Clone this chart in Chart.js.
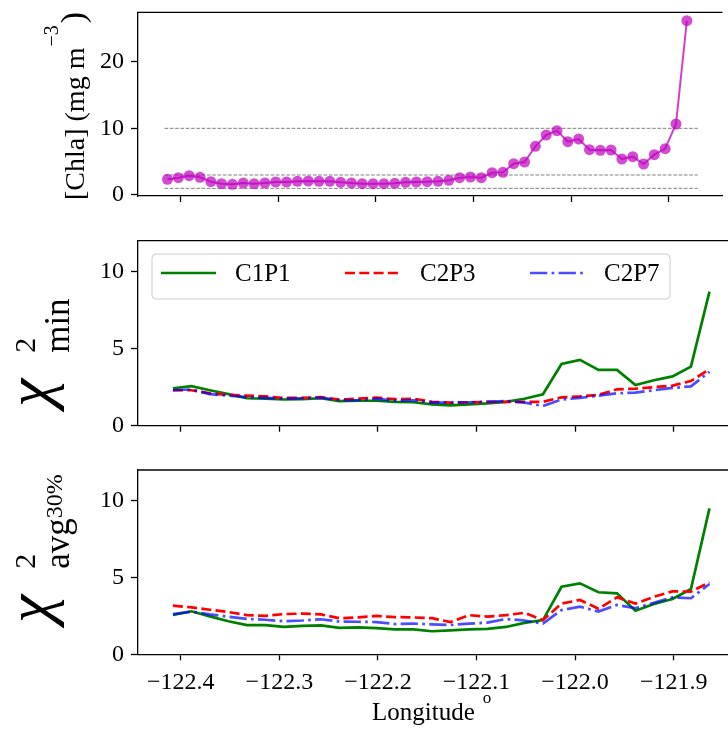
<!DOCTYPE html>
<html>
<head>
<meta charset="utf-8">
<script src="https://cdn.jsdelivr.net/npm/chart.js@4.4.0/dist/chart.umd.min.js"></script>
<style>
  body { margin: 0; background: #fff; width: 728px; height: 733px; overflow: hidden; position: relative; }
  canvas { position: absolute; left: 0; }
</style>
</head>
<body>
<canvas id="chla" width="728" height="230" style="top:0"></canvas>
<canvas id="chiMin" width="728" height="230" style="top:230px"></canvas>
<canvas id="chiAvg" width="728" height="273" style="top:460px"></canvas>
<script>
// longitude of each Chla sample
const chlaLon = [-122.4132, -122.4021, -122.3910, -122.3799, -122.3688, -122.3578, -122.3467, -122.3356,
  -122.3245, -122.3135, -122.3024, -122.2913, -122.2802, -122.2691, -122.2581, -122.2470, -122.2359,
  -122.2248, -122.2138, -122.2027, -122.1916, -122.1805, -122.1694, -122.1584, -122.1473, -122.1362,
  -122.1251, -122.1141, -122.1030, -122.0919, -122.0808, -122.0697, -122.0587, -122.0476, -122.0365,
  -122.0254, -122.0144, -122.0033, -121.9922, -121.9811, -121.9700, -121.9590, -121.9479, -121.9368,
  -121.9257, -121.9147, -121.9036, -121.8925, -121.8814];
const chlaVal = [2.35, 2.6, 2.9, 2.65, 2.0, 1.7, 1.6, 1.8, 1.7, 1.8, 1.95, 1.95, 2.05, 2.1, 2.05, 2.05,
  1.9, 1.8, 1.7, 1.7, 1.7, 1.75, 1.9, 1.95, 2.0, 2.05, 2.2, 2.6, 2.7, 2.6, 3.35, 3.4, 4.7, 4.95, 7.3,
  9.0, 9.65, 8.0, 8.4, 6.8, 6.7, 6.75, 5.4, 5.75, 4.65, 6.05, 6.95, 10.65, 26.15];
const refLevels = [1, 3, 10];
const refLonRange = [-122.4163, -121.8702];

// longitude of each chi-square station
const chiLon = [-122.4080, -122.3892, -122.3705, -122.3517, -122.3329, -122.3142, -122.2954, -122.2766,
  -122.2578, -122.2391, -122.2203, -122.2015, -122.1828, -122.1640, -122.1452, -122.1265, -122.1077,
  -122.0889, -122.0702, -122.0514, -122.0326, -122.0138, -121.9951, -121.9763, -121.9575, -121.9388,
  -121.9200, -121.9012, -121.8825, -121.8637];
const seriesNames = ['C1P1', 'C2P3', 'C2P7'];
const minC1P1 = [2.43, 2.56, 2.3, 2.05, 1.78, 1.75, 1.7, 1.72, 1.78, 1.6, 1.62, 1.62, 1.55, 1.52, 1.38,
  1.32, 1.38, 1.45, 1.55, 1.75, 2.04, 4.0, 4.27, 3.62, 3.62, 2.64, 2.95, 3.2, 3.83, 8.7];
const minC2P3 = [2.3, 2.3, 2.1, 2.0, 1.95, 1.9, 1.8, 1.8, 1.85, 1.7, 1.75, 1.82, 1.72, 1.75, 1.55,
  1.5, 1.5, 1.55, 1.55, 1.55, 1.55, 1.84, 1.9, 2.0, 2.36, 2.4, 2.5, 2.6, 2.9, 3.66];
const minC2P7 = [2.3, 2.35, 2.05, 1.95, 1.85, 1.8, 1.75, 1.78, 1.82, 1.65, 1.65, 1.75, 1.62, 1.65, 1.5,
  1.5, 1.52, 1.55, 1.6, 1.5, 1.28, 1.7, 1.8, 1.95, 2.1, 2.15, 2.3, 2.45, 2.55, 3.5];
const avgC1P1 = [2.56, 2.8, 2.47, 2.15, 1.9, 1.9, 1.78, 1.85, 1.88, 1.72, 1.75, 1.7, 1.62, 1.62, 1.5,
  1.56, 1.62, 1.65, 1.78, 2.05, 2.23, 4.4, 4.62, 4.04, 3.97, 2.84, 3.28, 3.6, 4.25, 9.5];
const avgC2P3 = [3.17, 3.05, 2.9, 2.75, 2.55, 2.5, 2.62, 2.65, 2.6, 2.35, 2.4, 2.5, 2.42, 2.4, 2.35,
  2.1, 2.55, 2.45, 2.55, 2.7, 2.23, 3.3, 3.54, 2.97, 3.71, 3.3, 3.75, 4.1, 4.08, 4.69];
const avgC2P7 = [2.62, 2.78, 2.6, 2.45, 2.3, 2.25, 2.15, 2.2, 2.28, 2.13, 2.12, 2.1, 1.97, 2.0, 1.95,
  1.91, 2.0, 2.06, 2.3, 2.2, 2.0, 2.88, 3.1, 2.78, 3.21, 3.0, 3.36, 3.71, 3.65, 4.58];

// tick labels
const lonTicks = [-122.4, -122.3, -122.2, -122.1, -122.0, -121.9];
const chlaTicks = [0, 10, 20];
const chiTicks = [0, 5, 10];

const SERIF = '"Liberation Serif", "DejaVu Serif", serif';

function pts(xs, ys) {
  return xs.map((x, i) => ({ x: x, y: ys[i] }));
}
function fmtLon(v) {
  return (v < 0 ? '\u2212' : '') + Math.abs(v).toFixed(1);
}

// top spine (matplotlib box, right side is cropped off)
const frameTop = {
  id: 'frameTop',
  afterDraw(chart) {
    const { ctx, chartArea: a } = chart;
    ctx.save();
    ctx.strokeStyle = '#000';
    ctx.lineWidth = 1.3;
    ctx.beginPath();
    ctx.moveTo(a.left - 0.65, a.top);
    ctx.lineTo(a.right, a.top);
    ctx.stroke();
    ctx.restore();
  }
};

// axis titles with super/subscripts
const mathText = {
  id: 'mathText',
  afterDraw(chart, args, opts) {
    const ctx = chart.ctx;
    (opts.items || []).forEach(item => {
      ctx.save();
      ctx.translate(item.x, item.y);
      if (item.rotate) ctx.rotate(-Math.PI / 2);
      ctx.fillStyle = '#000';
      ctx.textBaseline = 'alphabetic';
      ctx.textAlign = 'left';
      let cur = 0;
      item.parts.forEach(p => {
        ctx.font = p.font;
        ctx.fillText(p.text, cur + (p.dx || 0), -(p.rise || 0));
        if (!p.stay) cur += ctx.measureText(p.text).width + (p.dx || 0);
      });
      ctx.restore();
    });
  }
};

// legend box drawn inside the plot area
const boxLegend = {
  id: 'boxLegend',
  afterDraw(chart, args, opts) {
    if (!opts.show) return;
    const ctx = chart.ctx;
    const b = opts.box;
    ctx.save();
    ctx.beginPath();
    ctx.roundRect(b.x, b.y, b.w, b.h, 4);
    ctx.fillStyle = 'rgba(255,255,255,0.8)';
    ctx.fill();
    ctx.strokeStyle = '#cccccc';
    ctx.lineWidth = 1;
    ctx.stroke();
    chart.data.datasets.forEach((ds, i) => {
      const y = b.y + opts.rowY;
      ctx.setLineDash(ds.borderDash || []);
      ctx.strokeStyle = ds.borderColor;
      ctx.lineWidth = ds.borderWidth;
      ctx.beginPath();
      ctx.moveTo(opts.sampleX[i], y);
      ctx.lineTo(opts.sampleX[i] + opts.sampleW, y);
      ctx.stroke();
      ctx.setLineDash([]);
      ctx.fillStyle = '#000';
      ctx.font = opts.font;
      ctx.textBaseline = 'middle';
      ctx.fillText(ds.label, opts.textX[i], y + 1);
    });
    ctx.restore();
  }
};

function xScale(showLabels, height) {
  return {
    type: 'linear',
    min: -122.4434,
    max: -121.8449,
    afterBuildTicks: s => { s.ticks = lonTicks.map(v => ({ value: v })); },
    afterFit: s => { s.height = height; s.paddingLeft = 0; s.paddingRight = 0; },
    grid: { drawOnChartArea: false, drawTicks: true, tickLength: 6, tickWidth: 1.3, tickColor: '#000' },
    border: { display: true, color: '#000', width: 1.3 },
    ticks: {
      display: showLabels, padding: 8, color: '#000', maxRotation: 0, autoSkip: false,
      font: { family: SERIF, size: 24 },
      callback: v => fmtLon(v)
    }
  };
}

function yScale(ticks, min, max) {
  return {
    type: 'linear',
    min: min,
    max: max,
    afterBuildTicks: s => { s.ticks = ticks.map(v => ({ value: v })); },
    afterFit: s => { s.width = 138; s.paddingTop = 0; s.paddingBottom = 0; },
    grid: { drawOnChartArea: false, drawTicks: true, tickLength: 7, tickWidth: 1.3, tickColor: '#000' },
    border: { display: true, color: '#000', width: 1.3 },
    ticks: { padding: 7, color: '#000', font: { family: SERIF, size: 24 } }
  };
}

const common = {
  responsive: false,
  animation: false,
  events: [],
  plugins: { legend: { display: false }, tooltip: { enabled: false } }
};

// [Chla] panel
new Chart(document.getElementById('chla'), {
  type: 'line',
  data: {
    datasets: [
      {
        label: 'Chla',
        data: pts(chlaLon, chlaVal),
        borderColor: 'rgba(191,0,191,0.75)',
        borderWidth: 2,
        pointRadius: 5.5,
        pointBorderWidth: 0,
        pointBackgroundColor: 'rgba(191,0,191,0.7)',
        tension: 0,
        order: 0
      }
    ].concat(refLevels.map(lv => ({
      label: 'ref ' + lv,
      data: pts(refLonRange, [lv, lv]),
      borderColor: '#808080',
      borderWidth: 1,
      borderDash: [3.7, 1.6],
      pointRadius: 0,
      order: 1
    })))
  },
  options: Object.assign({}, common, {
    layout: { padding: { top: 12.3, left: 0, right: 0, bottom: 0 } },
    scales: { x: xScale(false, 34), y: yScale(chlaTicks, -0.15, 27.4) },
    plugins: Object.assign({}, common.plugins, {
      mathText: {
        items: [{
          x: 84, y: 200, rotate: true,
          parts: [
            { text: '[Chla] (mg m', font: '28px ' + SERIF },
            { text: '\u22123', font: '20px ' + SERIF, rise: 26, dx: 1 },
            { text: ')', font: '34px ' + SERIF, dx: 2 }
          ]
        }]
      }
    })
  }),
  plugins: [frameTop, mathText]
});

function chiDatasets(c1, c2, c3) {
  return [
    { label: seriesNames[0], data: pts(chiLon, c1), borderColor: '#008000', borderWidth: 2.7,
      pointRadius: 0, tension: 0, order: 2 },
    { label: seriesNames[1], data: pts(chiLon, c2), borderColor: '#ff0000', borderWidth: 2.7,
      borderDash: [10, 4.3], pointRadius: 0, tension: 0, order: 1 },
    { label: seriesNames[2], data: pts(chiLon, c3), borderColor: 'rgba(0,0,255,0.7)', borderWidth: 2.7,
      borderDash: [17.3, 4.3, 2.7, 4.3], pointRadius: 0, tension: 0, order: 0 }
  ];
}

// chi2 min panel
new Chart(document.getElementById('chiMin'), {
  type: 'line',
  data: { datasets: chiDatasets(minC1P1, minC2P3, minC2P7) },
  options: Object.assign({}, common, {
    layout: { padding: { top: 10.7, left: 0, right: 0, bottom: 0 } },
    scales: { x: xScale(false, 34.3), y: yScale(chiTicks, 0, 12) },
    plugins: Object.assign({}, common.plugins, {
      boxLegend: {
        show: true,
        box: { x: 152, y: 24, w: 518, h: 45 },
        rowY: 19,
        sampleX: [161, 345, 530],
        sampleW: 55,
        textX: [235, 420, 604],
        font: '25px ' + SERIF
      },
      mathText: {
        items: [{
          x: 50, y: 177, rotate: true,
          parts: [
            { text: '\u03c7', font: 'italic 64px ' + SERIF },
            { text: '2', font: '30px ' + SERIF, rise: 15, stay: true, dx: 26 },
            { text: 'min', font: '35px ' + SERIF, rise: -19, dx: 26 }
          ]
        }]
      }
    })
  }),
  plugins: [frameTop, boxLegend, mathText]
});

// chi2 avg 30% panel
new Chart(document.getElementById('chiAvg'), {
  type: 'line',
  data: { datasets: chiDatasets(avgC1P1, avgC2P3, avgC2P7) },
  options: Object.assign({}, common, {
    layout: { padding: { top: 10, left: 0, right: 0, bottom: 0 } },
    scales: { x: xScale(true, 78.7), y: yScale(chiTicks, 0, 12) },
    plugins: Object.assign({}, common.plugins, {
      mathText: {
        items: [
          {
            x: 50, y: 163, rotate: true,
            parts: [
              { text: '\u03c7', font: 'italic 64px ' + SERIF },
              { text: '2', font: '30px ' + SERIF, rise: 15, stay: true, dx: 26 },
              { text: 'avg', font: '35px ' + SERIF, rise: -19, dx: 26 },
              { text: '30%', font: '24px ' + SERIF, rise: -12 }
            ]
          },
          {
            x: 372, y: 260, rotate: false,
            parts: [
              { text: 'Longitude', font: '25px ' + SERIF },
              { text: 'o', font: '17px ' + SERIF, rise: 17, dx: 8 }
            ]
          }
        ]
      }
    })
  }),
  plugins: [frameTop, mathText]
});
</script>
</body>
</html>
